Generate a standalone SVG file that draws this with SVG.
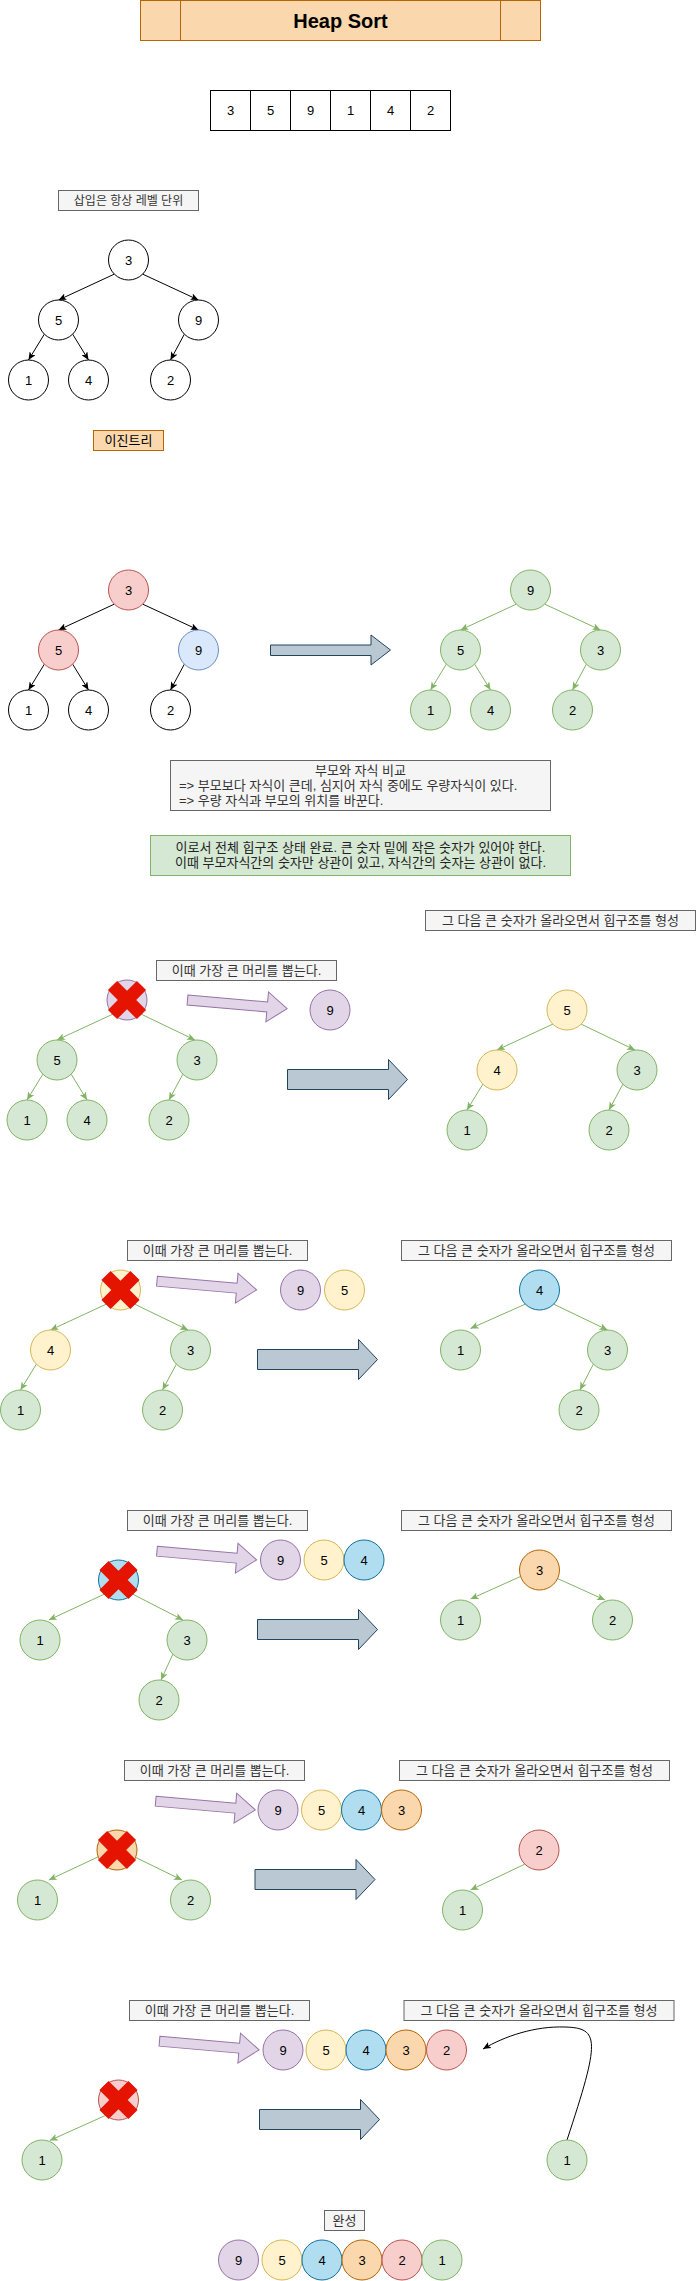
<svg xmlns="http://www.w3.org/2000/svg" xmlns:xlink="http://www.w3.org/1999/xlink" width="696" height="2281" viewBox="0 0 696 2281">
<style>
.w{fill:#ffffff;stroke:#000000}
.g{fill:#d5e8d4;stroke:#82b366}
.p{fill:#e1d5e7;stroke:#9673a6}
.y{fill:#fff2cc;stroke:#d6b656}
.b{fill:#dae8fc;stroke:#6c8ebf}
.bb{fill:#b1ddf0;stroke:#10739e}
.o{fill:#fad7ac;stroke:#b46504}
.r{fill:#f8cecc;stroke:#b85450}
.lb{fill:#f5f5f5;stroke:#666666}
.t{font-family:"Liberation Sans","Noto Sans CJK KR",sans-serif;font-size:13px;text-anchor:middle;dominant-baseline:central;fill:#000000}
.lt{font-family:"Liberation Sans","Noto Sans CJK KR",sans-serif;font-size:13px;text-anchor:middle;dominant-baseline:central;fill:#333333}
.el{fill:none;stroke:#000000;stroke-width:1}
.eg{fill:none;stroke:#82b366;stroke-width:1}
.xm{fill:#e51400}
.ba{fill:#bac8d3;stroke:#23445d}
.pa{fill:#e1d5e7;stroke:#9673a6}
</style>
<defs>
<marker id="ak" markerWidth="8" markerHeight="7" refX="8" refY="3.5" orient="auto" markerUnits="userSpaceOnUse"><path d="M0,0 L8,3.5 L0,7 L2,3.5 Z" fill="#000000"/></marker>
<marker id="ag" markerWidth="8" markerHeight="7" refX="8" refY="3.5" orient="auto" markerUnits="userSpaceOnUse"><path d="M0,0 L8,3.5 L0,7 L2,3.5 Z" fill="#82b366"/></marker>
<path id="xmark" class="xm" transform="rotate(45)" d="M-6.5,-20.5 H6.5 V-6.5 H20.5 V6.5 H6.5 V20.5 H-6.5 V6.5 H-20.5 V-6.5 H-6.5 Z"/>
<path id="bigArrow" class="ba" d="M0,10 H101 V0 L120,20 L101,40 V30 H0 Z"/>
<path id="popArrow" class="pa" d="M0,10 H80 V0 L100,15 L80,30 V20 H0 Z"/>
</defs>

<g id="title">
<rect x="140.5" y="0.5" width="400" height="40" fill="#fad7ac" stroke="#b46504"/>
<line x1="180.5" y1="0.5" x2="180.5" y2="40.5" stroke="#b46504"/>
<line x1="500.5" y1="0.5" x2="500.5" y2="40.5" stroke="#b46504"/>
<text x="340.5" y="20.5" class="t" style="font-size:20px;font-weight:bold">Heap Sort</text>
</g>

<g id="array">
<rect x="210.5" y="90.5" width="40" height="40" class="w"/><text x="230.5" y="110.5" class="t">3</text>
<rect x="250.5" y="90.5" width="40" height="40" class="w"/><text x="270.5" y="110.5" class="t">5</text>
<rect x="290.5" y="90.5" width="40" height="40" class="w"/><text x="310.5" y="110.5" class="t">9</text>
<rect x="330.5" y="90.5" width="40" height="40" class="w"/><text x="350.5" y="110.5" class="t">1</text>
<rect x="370.5" y="90.5" width="40" height="40" class="w"/><text x="390.5" y="110.5" class="t">4</text>
<rect x="410.5" y="90.5" width="40" height="40" class="w"/><text x="430.5" y="110.5" class="t">2</text>
</g>

<g id="label-insert"><rect x="58.5" y="190.5" width="140" height="20" class="lb"/><text x="128.5" y="200.5" class="lt" style="font-size:12px">삽입은 항상 레벨 단위</text></g>
<g id="label-binary"><rect x="93.5" y="430.5" width="70" height="20" fill="#fad7ac" stroke="#b46504"/><text x="128.5" y="440.5" class="t">이진트리</text></g>

<g id="connectors">
<path class="el" marker-end="url(#ak)" d="M114.4,274.1 L58.5,300"/>
<path class="el" marker-end="url(#ak)" d="M142.6,274.1 L198.5,300"/>
<path class="el" marker-end="url(#ak)" d="M44.4,334.1 L28.5,360"/>
<path class="el" marker-end="url(#ak)" d="M72.6,334.1 L88.5,360"/>
<path class="el" marker-end="url(#ak)" d="M184.4,334.1 L170.5,360"/>
<path class="el" marker-end="url(#ak)" d="M114.4,604.1 L58.5,630"/>
<path class="el" marker-end="url(#ak)" d="M142.6,604.1 L198.5,630"/>
<path class="el" marker-end="url(#ak)" d="M44.4,664.1 L28.5,690"/>
<path class="el" marker-end="url(#ak)" d="M72.6,664.1 L88.5,690"/>
<path class="el" marker-end="url(#ak)" d="M184.4,664.1 L170.5,690"/>
<path class="eg" marker-end="url(#ag)" d="M516.4,604.1 L460.5,630"/>
<path class="eg" marker-end="url(#ag)" d="M544.6,604.1 L600.5,630"/>
<path class="eg" marker-end="url(#ag)" d="M446.4,664.1 L430.5,690"/>
<path class="eg" marker-end="url(#ag)" d="M474.6,664.1 L490.5,690"/>
<path class="eg" marker-end="url(#ag)" d="M586.4,664.1 L572.5,690"/>
<path class="eg" marker-end="url(#ag)" d="M112.9,1014.1 L57,1040"/>
<path class="eg" marker-end="url(#ag)" d="M141.1,1014.1 L195,1040"/>
<path class="eg" marker-end="url(#ag)" d="M42.9,1074.1 L27,1100"/>
<path class="eg" marker-end="url(#ag)" d="M71.1,1074.1 L87,1100"/>
<path class="eg" marker-end="url(#ag)" d="M182.9,1074.1 L169,1100"/>
<path class="eg" marker-end="url(#ag)" d="M552.9,1024.1 L497,1050"/>
<path class="eg" marker-end="url(#ag)" d="M581.1,1024.1 L635,1050"/>
<path class="eg" marker-end="url(#ag)" d="M482.9,1084.1 L467,1110"/>
<path class="eg" marker-end="url(#ag)" d="M622.9,1084.1 L609,1110"/>
<path class="eg" marker-end="url(#ag)" d="M106.4,1304.1 L50.5,1330"/>
<path class="eg" marker-end="url(#ag)" d="M134.6,1304.1 L188,1330"/>
<path class="eg" marker-end="url(#ag)" d="M36.4,1364.1 L20.5,1390"/>
<path class="eg" marker-end="url(#ag)" d="M176.4,1364.1 L162.5,1390"/>
<path class="eg" marker-end="url(#ag)" d="M525.4,1304.1 L470.5,1328.5"/>
<path class="eg" marker-end="url(#ag)" d="M553.6,1304.1 L607.5,1330"/>
<path class="eg" marker-end="url(#ag)" d="M593.4,1364.1 L580,1390"/>
<path class="eg" marker-end="url(#ag)" d="M104.4,1594.1 L48.8,1620"/>
<path class="eg" marker-end="url(#ag)" d="M132.6,1594.1 L183,1620"/>
<path class="eg" marker-end="url(#ag)" d="M172.9,1654.1 L161,1680"/>
<path class="eg" marker-end="url(#ag)" d="M520,1576.7 L470.5,1599"/>
<path class="eg" marker-end="url(#ag)" d="M557,1578.3 L605,1600"/>
<path class="eg" marker-end="url(#ag)" d="M98.5,1856.7 L48.8,1880"/>
<path class="eg" marker-end="url(#ag)" d="M135.4,1857.3 L182,1880"/>
<path class="eg" marker-end="url(#ag)" d="M524.9,1864.1 L470.5,1890"/>
<path class="eg" marker-end="url(#ag)" d="M106.5,2115 L49.7,2140.5"/>
<path class="el" marker-end="url(#ak)" d="M567,2140 C600,2040 600,2028 565,2027 C535,2026 505,2036 483,2049"/>
</g>

<g id="tree1">
<g id="t1-3"><circle cx="128.5" cy="260" r="20" class="w"/><text x="128.5" y="260" class="t">3</text></g>
<g id="t1-5"><circle cx="58.5" cy="320" r="20" class="w"/><text x="58.5" y="320" class="t">5</text></g>
<g id="t1-9"><circle cx="198.5" cy="320" r="20" class="w"/><text x="198.5" y="320" class="t">9</text></g>
<g id="t1-1"><circle cx="28.5" cy="380" r="20" class="w"/><text x="28.5" y="380" class="t">1</text></g>
<g id="t1-4"><circle cx="88.5" cy="380" r="20" class="w"/><text x="88.5" y="380" class="t">4</text></g>
<g id="t1-2"><circle cx="170.5" cy="380" r="20" class="w"/><text x="170.5" y="380" class="t">2</text></g>
</g>

<g id="tree2">
<g id="t2-3"><circle cx="128.5" cy="590" r="20" class="r"/><text x="128.5" y="590" class="t">3</text></g>
<g id="t2-5"><circle cx="58.5" cy="650" r="20" class="r"/><text x="58.5" y="650" class="t">5</text></g>
<g id="t2-9"><circle cx="198.5" cy="650" r="20" class="b"/><text x="198.5" y="650" class="t">9</text></g>
<g id="t2-1"><circle cx="28.5" cy="710" r="20" class="w"/><text x="28.5" y="710" class="t">1</text></g>
<g id="t2-4"><circle cx="88.5" cy="710" r="20" class="w"/><text x="88.5" y="710" class="t">4</text></g>
<g id="t2-2"><circle cx="170.5" cy="710" r="20" class="w"/><text x="170.5" y="710" class="t">2</text></g>
</g>
<g id="arrow-heapify"><path class="ba" d="M270.5,645 H371 V635 L390.5,650 L371,665 V655.5 H270.5 Z"/></g>
<g id="tree3">
<g id="t3-9"><circle cx="530.5" cy="590" r="20" class="g"/><text x="530.5" y="590" class="t">9</text></g>
<g id="t3-5"><circle cx="460.5" cy="650" r="20" class="g"/><text x="460.5" y="650" class="t">5</text></g>
<g id="t3-3"><circle cx="600.5" cy="650" r="20" class="g"/><text x="600.5" y="650" class="t">3</text></g>
<g id="t3-1"><circle cx="430.5" cy="710" r="20" class="g"/><text x="430.5" y="710" class="t">1</text></g>
<g id="t3-4"><circle cx="490.5" cy="710" r="20" class="g"/><text x="490.5" y="710" class="t">4</text></g>
<g id="t3-2"><circle cx="572.5" cy="710" r="20" class="g"/><text x="572.5" y="710" class="t">2</text></g>
</g>

<g id="note-compare">
<rect x="170.5" y="760.5" width="380" height="50" class="lb"/>
<text x="360.5" y="770" class="lt">부모와 자식 비교</text>
<text x="179" y="785" class="lt" style="text-anchor:start">=&gt; 부모보다 자식이 큰데, 심지어 자식 중에도 우량자식이 있다.</text>
<text x="179" y="800" class="lt" style="text-anchor:start">=&gt; 우량 자식과 부모의 위치를 바꾼다.</text>
</g>
<g id="note-heap">
<rect x="150.5" y="835.5" width="420" height="40" class="g"/>
<text x="360.5" y="847.5" class="t" style="fill:#222222">이로서 전체 힙구조 상태 완료. 큰 숫자 밑에 작은 숫자가 있어야 한다.</text>
<text x="360.5" y="862.5" class="t" style="fill:#222222">이때 부모자식간의 숫자만 상관이 있고, 자식간의 숫자는 상관이 없다.</text>
</g>

<g id="s1-next"><rect x="425.5" y="910.5" width="270" height="20" class="lb"/><text x="560.5" y="920.5" class="lt">그 다음 큰 숫자가 올라오면서 힙구조를 형성</text></g>
<g id="s1-pop"><rect x="156.5" y="960.5" width="180" height="20" class="lb"/><text x="246.5" y="970.5" class="lt">이때 가장 큰 머리를 뽑는다.</text></g>
<g id="s1-x"><circle cx="127" cy="1000" r="20" class="p"/><use xlink:href="#xmark" href="#xmark" x="127" y="1000"/></g>
<g id="s1-5"><circle cx="57" cy="1060" r="20" class="g"/><text x="57" y="1060" class="t">5</text></g>
<g id="s1-3"><circle cx="197" cy="1060" r="20" class="g"/><text x="197" y="1060" class="t">3</text></g>
<g id="s1-1"><circle cx="27" cy="1120" r="20" class="g"/><text x="27" y="1120" class="t">1</text></g>
<g id="s1-4"><circle cx="87" cy="1120" r="20" class="g"/><text x="87" y="1120" class="t">4</text></g>
<g id="s1-2"><circle cx="169" cy="1120" r="20" class="g"/><text x="169" y="1120" class="t">2</text></g>
<g id="s1-popArrow"><use xlink:href="#popArrow" href="#popArrow" transform="translate(237.3,1004.3) rotate(5) translate(-50,-15)"/></g>
<g id="s1-out9"><circle cx="330" cy="1010" r="20" class="p"/><text x="330" y="1010" class="t">9</text></g>
<g id="s1-arrow"><use xlink:href="#bigArrow" href="#bigArrow" x="287.5" y="1059.5"/></g>
<g id="s1r-5"><circle cx="567" cy="1010" r="20" class="y"/><text x="567" y="1010" class="t">5</text></g>
<g id="s1r-4"><circle cx="497" cy="1070" r="20" class="y"/><text x="497" y="1070" class="t">4</text></g>
<g id="s1r-3"><circle cx="637" cy="1070" r="20" class="g"/><text x="637" y="1070" class="t">3</text></g>
<g id="s1r-1"><circle cx="467" cy="1130" r="20" class="g"/><text x="467" y="1130" class="t">1</text></g>
<g id="s1r-2"><circle cx="609" cy="1130" r="20" class="g"/><text x="609" y="1130" class="t">2</text></g>

<g id="s2-pop"><rect x="127.5" y="1240.5" width="180" height="20" class="lb"/><text x="217.5" y="1250.5" class="lt">이때 가장 큰 머리를 뽑는다.</text></g>
<g id="s2-next"><rect x="401.5" y="1240.5" width="270" height="20" class="lb"/><text x="536.5" y="1250.5" class="lt">그 다음 큰 숫자가 올라오면서 힙구조를 형성</text></g>
<g id="s2-x"><circle cx="120.5" cy="1290" r="20" class="y"/><use xlink:href="#xmark" href="#xmark" x="120.5" y="1290"/></g>
<g id="s2-4"><circle cx="50.5" cy="1350" r="20" class="y"/><text x="50.5" y="1350" class="t">4</text></g>
<g id="s2-3"><circle cx="190.5" cy="1350" r="20" class="g"/><text x="190.5" y="1350" class="t">3</text></g>
<g id="s2-1"><circle cx="20.5" cy="1410" r="20" class="g"/><text x="20.5" y="1410" class="t">1</text></g>
<g id="s2-2"><circle cx="162.5" cy="1410" r="20" class="g"/><text x="162.5" y="1410" class="t">2</text></g>
<g id="s2-popArrow"><use xlink:href="#popArrow" href="#popArrow" transform="translate(206.8,1285.5) rotate(5) translate(-50,-15)"/></g>
<g id="s2-out9"><circle cx="300.5" cy="1290" r="20" class="p"/><text x="300.5" y="1290" class="t">9</text></g>
<g id="s2-out5"><circle cx="344.5" cy="1290" r="20" class="y"/><text x="344.5" y="1290" class="t">5</text></g>
<g id="s2-arrow"><use xlink:href="#bigArrow" href="#bigArrow" x="257.5" y="1339.5"/></g>
<g id="s2r-4"><circle cx="539.5" cy="1290" r="20" class="bb"/><text x="539.5" y="1290" class="t">4</text></g>
<g id="s2r-1"><circle cx="460.5" cy="1350" r="20" class="g"/><text x="460.5" y="1350" class="t">1</text></g>
<g id="s2r-3"><circle cx="607.5" cy="1350" r="20" class="g"/><text x="607.5" y="1350" class="t">3</text></g>
<g id="s2r-2"><circle cx="579" cy="1410" r="20" class="g"/><text x="579" y="1410" class="t">2</text></g>

<g id="s3-pop"><rect x="127.5" y="1510.5" width="180" height="20" class="lb"/><text x="217.5" y="1520.5" class="lt">이때 가장 큰 머리를 뽑는다.</text></g>
<g id="s3-next"><rect x="401.5" y="1510.5" width="270" height="20" class="lb"/><text x="536.5" y="1520.5" class="lt">그 다음 큰 숫자가 올라오면서 힙구조를 형성</text></g>
<g id="s3-x"><circle cx="118.5" cy="1580" r="20" class="bb"/><use xlink:href="#xmark" href="#xmark" x="118.5" y="1580"/></g>
<g id="s3-1"><circle cx="40" cy="1640" r="20" class="g"/><text x="40" y="1640" class="t">1</text></g>
<g id="s3-3"><circle cx="187" cy="1640" r="20" class="g"/><text x="187" y="1640" class="t">3</text></g>
<g id="s3-2"><circle cx="159" cy="1700" r="20" class="g"/><text x="159" y="1700" class="t">2</text></g>
<g id="s3-popArrow"><use xlink:href="#popArrow" href="#popArrow" transform="translate(206.8,1555.5) rotate(5) translate(-50,-15)"/></g>
<g id="s3-out9"><circle cx="280.5" cy="1560" r="20" class="p"/><text x="280.5" y="1560" class="t">9</text></g>
<g id="s3-out5"><circle cx="324" cy="1560" r="20" class="y"/><text x="324" y="1560" class="t">5</text></g>
<g id="s3-out4"><circle cx="364" cy="1560" r="20" class="bb"/><text x="364" y="1560" class="t">4</text></g>
<g id="s3-arrow"><use xlink:href="#bigArrow" href="#bigArrow" x="257.5" y="1609.5"/></g>
<g id="s3r-3"><circle cx="539.5" cy="1570" r="20" class="o"/><text x="539.5" y="1570" class="t">3</text></g>
<g id="s3r-1"><circle cx="460.5" cy="1620" r="20" class="g"/><text x="460.5" y="1620" class="t">1</text></g>
<g id="s3r-2"><circle cx="612.5" cy="1620" r="20" class="g"/><text x="612.5" y="1620" class="t">2</text></g>

<g id="s4-pop"><rect x="124.5" y="1760.5" width="180" height="20" class="lb"/><text x="214.5" y="1770.5" class="lt">이때 가장 큰 머리를 뽑는다.</text></g>
<g id="s4-next"><rect x="399.5" y="1760.5" width="270" height="20" class="lb"/><text x="534.5" y="1770.5" class="lt">그 다음 큰 숫자가 올라오면서 힙구조를 형성</text></g>
<g id="s4-x"><circle cx="117" cy="1850" r="20" class="o"/><use xlink:href="#xmark" href="#xmark" x="117" y="1850"/></g>
<g id="s4-1"><circle cx="37.5" cy="1900" r="20" class="g"/><text x="37.5" y="1900" class="t">1</text></g>
<g id="s4-2"><circle cx="190.5" cy="1900" r="20" class="g"/><text x="190.5" y="1900" class="t">2</text></g>
<g id="s4-popArrow"><use xlink:href="#popArrow" href="#popArrow" transform="translate(205.5,1805.5) rotate(5) translate(-50,-15)"/></g>
<g id="s4-out9"><circle cx="278" cy="1810" r="20" class="p"/><text x="278" y="1810" class="t">9</text></g>
<g id="s4-out5"><circle cx="321.5" cy="1810" r="20" class="y"/><text x="321.5" y="1810" class="t">5</text></g>
<g id="s4-out4"><circle cx="361.5" cy="1810" r="20" class="bb"/><text x="361.5" y="1810" class="t">4</text></g>
<g id="s4-out3"><circle cx="401.5" cy="1810" r="20" class="o"/><text x="401.5" y="1810" class="t">3</text></g>
<g id="s4-arrow"><use xlink:href="#bigArrow" href="#bigArrow" x="255" y="1859.5"/></g>
<g id="s4r-2"><circle cx="539" cy="1850" r="20" class="r"/><text x="539" y="1850" class="t">2</text></g>
<g id="s4r-1"><circle cx="462.5" cy="1910" r="20" class="g"/><text x="462.5" y="1910" class="t">1</text></g>

<g id="s5-pop"><rect x="129.5" y="2000.5" width="180" height="20" class="lb"/><text x="219.5" y="2010.5" class="lt">이때 가장 큰 머리를 뽑는다.</text></g>
<g id="s5-next"><rect x="404" y="2000.5" width="270" height="20" class="lb"/><text x="539" y="2010.5" class="lt">그 다음 큰 숫자가 올라오면서 힙구조를 형성</text></g>
<g id="s5-x"><circle cx="118.5" cy="2100" r="20" class="r"/><use xlink:href="#xmark" href="#xmark" x="118.5" y="2100"/></g>
<g id="s5-1"><circle cx="42" cy="2160" r="20" class="g"/><text x="42" y="2160" class="t">1</text></g>
<g id="s5-popArrow"><use xlink:href="#popArrow" href="#popArrow" transform="translate(209.3,2045.5) rotate(5) translate(-50,-15)"/></g>
<g id="s5-out9"><circle cx="283" cy="2050" r="20" class="p"/><text x="283" y="2050" class="t">9</text></g>
<g id="s5-out5"><circle cx="326" cy="2050" r="20" class="y"/><text x="326" y="2050" class="t">5</text></g>
<g id="s5-out4"><circle cx="366" cy="2050" r="20" class="bb"/><text x="366" y="2050" class="t">4</text></g>
<g id="s5-out3"><circle cx="406" cy="2050" r="20" class="o"/><text x="406" y="2050" class="t">3</text></g>
<g id="s5-out2"><circle cx="446.5" cy="2050" r="20" class="r"/><text x="446.5" y="2050" class="t">2</text></g>
<g id="s5-arrow"><use xlink:href="#bigArrow" href="#bigArrow" x="259.5" y="2099.5"/></g>
<g id="s5r-1"><circle cx="567" cy="2160" r="20" class="g"/><text x="567" y="2160" class="t">1</text></g>

<g id="done-label"><rect x="324.5" y="2210.5" width="40" height="20" class="lb"/><text x="344.5" y="2220.5" class="lt">완성</text></g>
<g id="done-9"><circle cx="238.5" cy="2260" r="20" class="p"/><text x="238.5" y="2260" class="t">9</text></g>
<g id="done-5"><circle cx="282" cy="2260" r="20" class="y"/><text x="282" y="2260" class="t">5</text></g>
<g id="done-4"><circle cx="322" cy="2260" r="20" class="bb"/><text x="322" y="2260" class="t">4</text></g>
<g id="done-3"><circle cx="362" cy="2260" r="20" class="o"/><text x="362" y="2260" class="t">3</text></g>
<g id="done-2"><circle cx="402" cy="2260" r="20" class="r"/><text x="402" y="2260" class="t">2</text></g>
<g id="done-1"><circle cx="442" cy="2260" r="20" class="g"/><text x="442" y="2260" class="t">1</text></g>
</svg>
